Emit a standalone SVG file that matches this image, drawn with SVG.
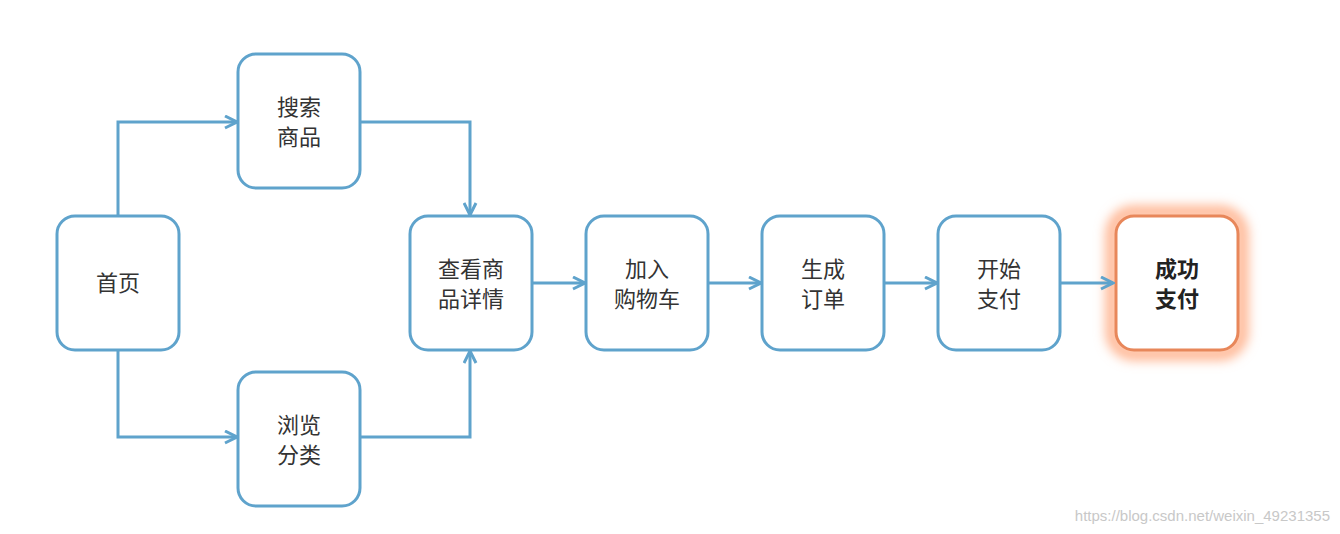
<svg xmlns="http://www.w3.org/2000/svg" width="1340" height="534" viewBox="0 0 1340 534">
<style>
.n{fill:#fff;stroke:#5fa3cc;stroke-width:3}
.t{font-family:"Noto Sans CJK SC",sans-serif;font-size:22px;fill:#333;text-anchor:middle}
.c{fill:none;stroke:#5fa3cc;stroke-width:3}
</style>
<defs>
<marker id="a" viewBox="0 0 10 10" refX="9" refY="5" markerWidth="5" markerHeight="5" orient="auto" markerUnits="strokeWidth"><path d="M1,1 L9,5 L1,9" fill="none" stroke="#5fa3cc" stroke-width="2"/></marker>
<filter id="g" x="-30%" y="-30%" width="160%" height="160%"><feGaussianBlur stdDeviation="6"/></filter>
</defs>
<rect width="1340" height="534" fill="#fff"/>
<g id="home"><rect class="n" x="57" y="216" width="122" height="134" rx="18"/><text class="t" x="118" y="291">首页</text></g>
<g id="search"><rect class="n" x="238" y="54" width="122" height="134" rx="18"/><text class="t" x="299" y="115">搜索</text><text class="t" x="299" y="145">商品</text></g>
<g id="browse"><rect class="n" x="238" y="372" width="122" height="134" rx="18"/><text class="t" x="299" y="433">浏览</text><text class="t" x="299" y="463">分类</text></g>
<g id="detail"><rect class="n" x="410" y="216" width="122" height="134" rx="18"/><text class="t" x="471" y="277">查看商</text><text class="t" x="471" y="307">品详情</text></g>
<g id="cart"><rect class="n" x="586" y="216" width="122" height="134" rx="18"/><text class="t" x="647" y="277">加入</text><text class="t" x="647" y="307">购物车</text></g>
<g id="order"><rect class="n" x="762" y="216" width="122" height="134" rx="18"/><text class="t" x="823" y="277">生成</text><text class="t" x="823" y="307">订单</text></g>
<g id="pay"><rect class="n" x="938" y="216" width="122" height="134" rx="18"/><text class="t" x="999" y="277">开始</text><text class="t" x="999" y="307">支付</text></g>
<g id="success">
<rect x="1112" y="212" width="130" height="142" rx="22" fill="none" stroke="#ffb08a" stroke-width="12" filter="url(#g)"/>
<rect x="1116" y="216" width="122" height="134" rx="18" fill="#fff" stroke="#e8875a" stroke-width="3"/>
<text class="t" x="1177" y="277" font-weight="bold" style="fill:#222">成功</text><text class="t" x="1177" y="307" font-weight="bold" style="fill:#222">支付</text></g>
<g id="connectors">
<path class="c" d="M118,216 V122 H237" marker-end="url(#a)"/>
<path class="c" d="M118,350 V437 H237" marker-end="url(#a)"/>
<path class="c" d="M360,122 H470 V215" marker-end="url(#a)"/>
<path class="c" d="M360,437 H470 V351" marker-end="url(#a)"/>
<path class="c" d="M532,283 H585" marker-end="url(#a)"/>
<path class="c" d="M708,283 H761" marker-end="url(#a)"/>
<path class="c" d="M884,283 H937" marker-end="url(#a)"/>
<path class="c" d="M1060,283 H1113" marker-end="url(#a)"/>
</g>
<text x="1330" y="521" font-family="Liberation Sans,sans-serif" font-size="15" fill="#c8c8c8" text-anchor="end">https://blog.csdn.net/weixin_49231355</text>
</svg>
